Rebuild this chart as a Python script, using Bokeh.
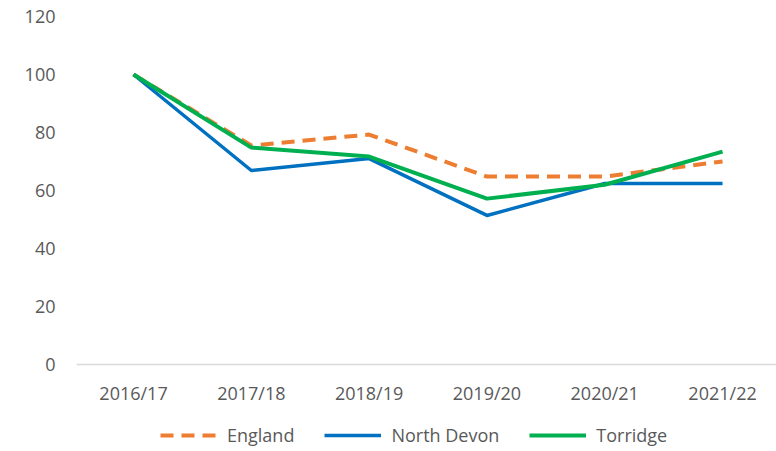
from bokeh.plotting import figure
from bokeh.models import Range1d, FixedTicker, Legend, LegendItem, Span
from bokeh.core.properties import value
from bokeh.embed import file_html
from bokeh.resources import INLINE

categories = ["2016/17", "2017/18", "2018/19", "2019/20", "2020/21", "2021/22"]
england = [100, 75.5, 79.3, 64.8, 64.8, 70.0]
north_devon = [100, 66.9, 71.0, 51.4, 62.4, 62.4]
torridge = [100, 74.8, 71.7, 57.2, 62.0, 73.4]
y_ticks = [0, 20, 40, 60, 80, 100, 120]

TEXT = "#595959"
FONT = "Open Sans"
xs = list(range(len(categories)))

W, H = 776, 448
TOP, LEFT = 16, 76
PX_PER_UNIT = 2.9          # vertical scale: 120 units over 348 px
y_end = 120
y_start = y_end - (H - TOP) / PX_PER_UNIT

p = figure(width=W, height=H, output_backend="svg", toolbar_location=None,
           x_range=Range1d(-0.484, 5.458), y_range=Range1d(y_start, y_end),
           min_border_left=LEFT, min_border_right=0, min_border_top=TOP, min_border_bottom=0)
p.outline_line_color = None
p.xgrid.grid_line_color = None
p.ygrid.grid_line_color = None
p.xaxis.visible = False

# baseline at y = 0
p.add_layout(Span(location=0, dimension="width", line_color="#D9D9D9", line_width=1.5,
                  level="underlay"))

r_eng = p.line(xs, england, line_color="#ED7D31", line_width=4, line_dash="13 8")
r_nd = p.line(xs, north_devon, line_color="#0070C0", line_width=3.5)
r_tor = p.line(xs, torridge, line_color="#00B050", line_width=4)

# category labels below the baseline
label_offset = -28 / PX_PER_UNIT
p.text(x=xs, y=[label_offset] * len(xs), text=categories,
       text_align="center", text_baseline="middle",
       text_font=value(FONT), text_font_size="18px", text_color=TEXT)

p.yaxis.ticker = FixedTicker(ticks=y_ticks)
p.yaxis.axis_line_color = None
p.yaxis.major_tick_line_color = None
p.yaxis.minor_tick_line_color = None
p.yaxis.major_tick_out = 0
p.yaxis.major_tick_in = 0
p.yaxis.major_label_text_font = FONT
p.yaxis.major_label_text_font_size = "18px"
p.yaxis.major_label_text_color = TEXT
p.yaxis.major_label_standoff = 21

legend = Legend(items=[LegendItem(label="England", renderers=[r_eng]),
                       LegendItem(label="North Devon", renderers=[r_nd]),
                       LegendItem(label="Torridge", renderers=[r_tor])],
                orientation="horizontal", location=(84, 1),
                glyph_width=57, glyph_height=20, label_height=20,
                label_standoff=10, spacing=30, padding=0, margin=0,
                border_line_color=None, background_fill_alpha=0,
                label_text_font=FONT, label_text_font_size="18px",
                label_text_color=TEXT)
p.add_layout(legend, "center")

open("out.html", "w").write(file_html(p, INLINE))
